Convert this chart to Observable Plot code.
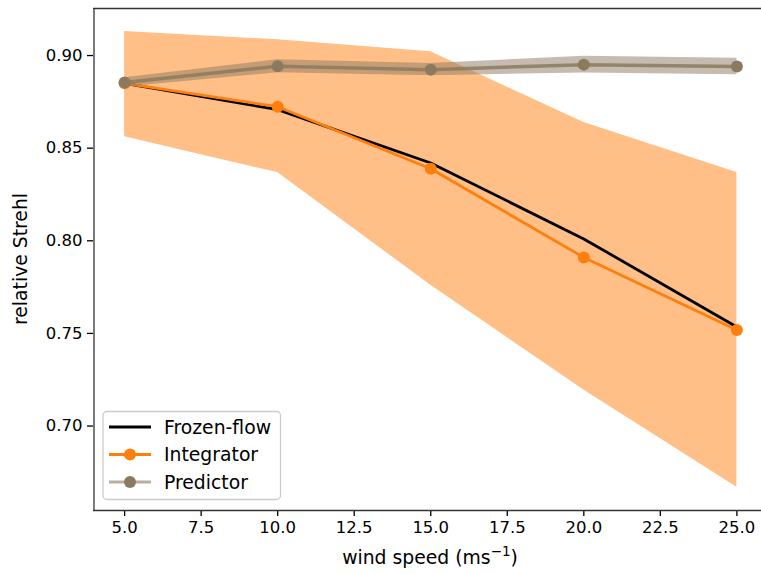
<!DOCTYPE html>
<html>
<head>
<meta charset="utf-8">
<script src="https://cdn.jsdelivr.net/npm/d3@7"></script>
<script src="https://cdn.jsdelivr.net/npm/@observablehq/plot@0.6"></script>
<style>
  html, body { margin: 0; padding: 0; background: white; overflow: hidden; }
  #chart svg { display: block; overflow: hidden; }
</style>
</head>
<body>
<div id="chart"></div>
<script>
// ---- data ----
const windSpeed = [5, 10, 15, 20, 25];
const frozenFlow = [0.885, 0.8708, 0.842, 0.801, 0.7535];
const integrator = [0.8850, 0.8724, 0.8389, 0.7910, 0.7519];
const integratorUpper = [0.913, 0.9085, 0.902, 0.8638, 0.8368];
const integratorLower = [0.8562, 0.8368, 0.7760, 0.7195, 0.6670];
const predictor = [0.8855, 0.8942, 0.8924, 0.8951, 0.8941];
const predictorHalf = [0.0025, 0.0035, 0.0033, 0.0045, 0.0045];
const xTicks = [5, 7.5, 10, 12.5, 15, 17.5, 20, 22.5, 25];
const yTicks = [0.70, 0.75, 0.80, 0.85, 0.90];
const seriesNames = ["Frozen-flow", "Integrator", "Predictor"];

const rows = windSpeed.map((w, i) => ({
  w,
  frozen: frozenFlow[i],
  integ: integrator[i],
  iLo: integratorLower[i],
  iHi: integratorUpper[i],
  pred: predictor[i],
  pLo: predictor[i] - predictorHalf[i],
  pHi: predictor[i] + predictorHalf[i]
}));

const orange = "#ff7f0e";
const brown = "#8b7a60";
const font = "DejaVu Sans, sans-serif";
const fs = "16.5px";
const fsL = "18.8px";

const plot = Plot.plot({
  width: 761,
  height: 574,
  marginLeft: 93,
  marginRight: 0,
  marginTop: 8,
  marginBottom: 64,
  style: { fontFamily: font, fontSize: fs, background: "white", color: "black" },
  x: { domain: [4, 26], range: [93.5, 767] },
  y: { domain: [0.6544, 0.9254] },
  marks: [
    Plot.areaY(rows, { x: "w", y1: "iLo", y2: "iHi", fill: orange, fillOpacity: 0.5 }),
    Plot.lineY(rows, { x: "w", y: "frozen", stroke: "black", strokeWidth: 2.8 }),
    Plot.lineY(rows, { x: "w", y: "integ", stroke: orange, strokeWidth: 2.8 }),
    Plot.dot(rows, { x: "w", y: "integ", fill: orange, r: 6 }),
    Plot.areaY(rows, { x: "w", y1: "pLo", y2: "pHi", fill: brown, fillOpacity: 0.5 }),
    Plot.lineY(rows, { x: "w", y: "pred", stroke: brown, strokeWidth: 3.5, strokeOpacity: 0.85 }),
    Plot.dot(rows, { x: "w", y: "pred", fill: brown, r: 6 }),
    Plot.axisX({ ticks: xTicks, tickFormat: d3.format(".1f"), tickSize: 6, tickPadding: 5, strokeWidth: 1.3, label: null }),
    Plot.axisY({ ticks: yTicks, tickFormat: d3.format(".2f"), tickSize: 6, tickPadding: 5, strokeWidth: 1.3, label: null }),
    Plot.ruleX([4], { stroke: "#333", strokeWidth: 1.3 }),
    Plot.ruleY([0.6544, 0.9254], { stroke: "#333", strokeWidth: 1.3 })
  ]
});

const svg = d3.select(plot);
svg.selectAll("text").style("font-size", fs).style("font-family", font).attr("fill", "black");

// axis labels
svg.append("text")
  .attr("x", 430).attr("y", 564)
  .attr("text-anchor", "middle")
  .style("font-family", font).style("font-size", fsL)
  .call(t => {
    t.append("tspan").text("wind speed (ms");
    t.append("tspan").text("\u22121").style("font-size", "13.5px").attr("dy", "-8");
    t.append("tspan").text(")").attr("dy", "8");
  });

svg.append("text")
  .attr("transform", "translate(27,259) rotate(-90)")
  .attr("text-anchor", "middle")
  .style("font-family", font).style("font-size", fsL)
  .text("relative Strehl");

// legend
const lg = svg.append("g");
lg.append("rect")
  .attr("x", 103).attr("y", 411.5).attr("width", 177.5).attr("height", 88)
  .attr("rx", 4).attr("fill", "white").attr("fill-opacity", 0.8)
  .attr("stroke", "#cccccc").attr("stroke-width", 1.3);
const legendStyles = [
  { stroke: "black", op: 1, dot: null },
  { stroke: orange, op: 1, dot: orange },
  { stroke: brown, op: 0.6, dot: brown }
];
seriesNames.forEach((name, i) => {
  const yy = 427 + i * 27.5;
  const s = legendStyles[i];
  lg.append("line").attr("x1", 109).attr("x2", 151).attr("y1", yy).attr("y2", yy)
    .attr("stroke", s.stroke).attr("stroke-opacity", s.op).attr("stroke-width", 3.2);
  if (s.dot) lg.append("circle").attr("cx", 130).attr("cy", yy).attr("r", 6).attr("fill", s.dot);
  lg.append("text").attr("x", 164).attr("y", yy).attr("dy", "0.36em")
    .attr("text-anchor", "start")
    .style("font-family", font).style("font-size", fsL).text(name);
});

document.getElementById("chart").appendChild(plot);
</script>
</body>
</html>
